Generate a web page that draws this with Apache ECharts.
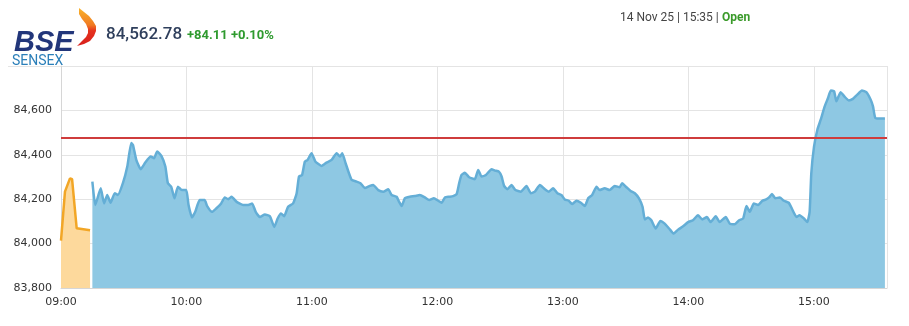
<!DOCTYPE html>
<html>
<head>
<meta charset="utf-8">
<script src="https://cdn.jsdelivr.net/npm/echarts@6/dist/echarts.min.js"></script>
<style>
html,body{margin:0;padding:0;background:#fff;}
#chart{width:909px;height:326px;}
</style>
</head>
<body>
<div id="chart"></div>
<script>
// ---- data (minutes after 09:00, index value) ----
const preOpenTimes = [0, 1.9, 4.3, 5.3, 7.5, 8.1, 13.9];
const preOpenValues = [84013, 84234, 84294, 84290, 84069, 84060, 84060];

const sessionTimes = [15,16.4,19,20.6,22.1,23.7,25.7,27.2,29.6,31.7,33.6,34.4,36,38.1,40.3,42.9,44.5,46,48,49.9,51.1,52.7,54.3,55.9,57.8,59.9,61,62.6,64.2,66.3,68.7,69.9,72.2,74.2,76.6,78.3,80,81.6,84,87.1,89.5,91.4,93.1,95.1,97.5,99.9,102,103.6,105.2,106.7,108.6,111,112.7,113.8,115.3,116.6,117.9,119.8,121.7,124.6,127,129.4,131.8,133.4,134.5,136.1,137.7,139,141.3,143.2,145.3,147.7,149.3,151.7,154.1,156.5,158.1,160.5,161.7,162.9,164.4,166.8,169.2,171.6,174,176.1,178.3,180.4,182,183.6,185.6,187.5,189.2,190.4,191.5,193.1,195.2,197.9,199.5,201.1,203.2,205.9,207.5,209.4,210.7,211.9,213.5,215.4,217.3,219.9,222.6,224.7,226.6,229,231.4,233.3,235.3,237.4,239.3,240.9,242.8,244.4,246.5,248.6,250.5,252.1,254,256.1,257.6,260,262.4,264.8,267.2,268.3,270.4,272.4,274.4,276.4,278.1,279.2,280.7,282.3,284.4,286.6,288.7,290.8,293,295.1,297.5,299.9,302.2,304.6,306.7,308.9,310.6,313.1,315,317.9,319.8,322.2,324.3,326.2,327.8,329.4,331.3,333.4,335.4,337.2,338.6,340,341.6,343.7,345.7,348,349.5,351.7,353.2,355.3,356.9,358,358.8,360.1,361.7,363.3,365.2,366.8,368.1,369.7,370.8,372.8,374.8,376.7,378.7,380.8,383,385.1,387.2,388.3,389.4,391.5,394];
const sessionValues = [84279,84174,84249,84181,84219,84184,84227,84219,84272,84347,84453,84445,84377,84335,84365,84392,84385,84415,84395,84347,84272,84256,84204,84256,84241,84241,84174,84118,84143,84196,84196,84169,84143,84158,84181,84208,84200,84211,84188,84174,84174,84181,84143,84120,84131,84123,84075,84113,84136,84123,84166,84181,84227,84302,84309,84369,84377,84407,84369,84350,84365,84377,84407,84392,84407,84362,84317,84287,84279,84272,84250,84260,84264,84241,84234,84245,84219,84211,84188,84169,84204,84211,84214,84219,84208,84196,84204,84193,84184,84208,84211,84214,84223,84272,84309,84319,84299,84290,84332,84302,84309,84335,84329,84324,84302,84260,84245,84264,84241,84234,84260,84227,84234,84264,84245,84234,84249,84227,84219,84199,84193,84178,84193,84184,84169,84204,84219,84256,84241,84249,84241,84260,84254,84272,84254,84237,84227,84204,84166,84109,84118,84105,84068,84102,84090,84068,84045,84063,84078,84097,84105,84128,84109,84120,84097,84123,84097,84120,84090,84087,84105,84113,84169,84143,84181,84174,84193,84199,84208,84223,84204,84208,84193,84184,84158,84120,84128,84113,84097,84143,84317,84437,84513,84558,84618,84656,84690,84686,84641,84682,84661,84645,84652,84671,84690,84682,84648,84618,84566,84563,84563];

const previousClose = 84478.67;
const yTicks = [83800, 84000, 84200, 84400, 84600, 84800];
const xTickLabels = ['09:00','10:00','11:00','12:00','13:00','14:00','15:00'];

const headerValue = '84,562.78';
const headerChange = '+84.11 +0.10%';
const headerDate = '14 Nov 25 | 15:35 | ';
const headerStatus = 'Open';

// ---- build ----
const preOpenData = preOpenTimes.map((t, i) => [t, preOpenValues[i]]);
const sessionData = sessionTimes.map((t, i) => [t, sessionValues[i]]);

const chart = echarts.init(document.getElementById('chart'), null, {renderer: 'canvas'});

const flameGradient = new echarts.graphic.LinearGradient(0, 0, 0, 1, [
  {offset: 0, color: '#f9b32a'},
  {offset: 0.45, color: '#f07a22'},
  {offset: 0.6, color: '#e5321e'},
  {offset: 1, color: '#d81f1c'}
]);

const option = {
  animation: false,
  backgroundColor: '#ffffff',
  grid: {left: 61, right: 22, top: 66, bottom: 38, containLabel: false},
  xAxis: {
    type: 'value',
    min: 0,
    max: 395,
    interval: 60,
    axisLine: {show: true, lineStyle: {color: '#d6d6d6'}},
    axisTick: {show: false},
    splitLine: {show: true, lineStyle: {color: '#e4e4e4', width: 1}},
    axisLabel: {
      showMaxLabel: false,
      margin: 9,
      color: '#333',
      fontFamily: 'DejaVu Sans',
      fontSize: 11,
      formatter: function (v) { return xTickLabels[Math.round(v / 60)] || ''; }
    }
  },
  yAxis: {
    type: 'value',
    min: yTicks[0],
    max: yTicks[yTicks.length - 1],
    interval: 200,
    axisLine: {show: true, lineStyle: {color: '#d6d6d6'}},
    axisTick: {show: false},
    splitLine: {show: true, lineStyle: {color: '#e4e4e4', width: 1}},
    axisLabel: {
      showMaxLabel: false,
      margin: 9,
      color: '#333',
      fontFamily: 'DejaVu Sans',
      fontSize: 11,
      formatter: function (v) { return v.toLocaleString('en-US'); }
    }
  },
  series: [
    {
      name: 'Pre-open',
      type: 'line',
      data: preOpenData,
      showSymbol: false,
      symbol: 'none',
      lineStyle: {color: '#f2a626', width: 2.5},
      itemStyle: {color: '#f2a626'},
      areaStyle: {color: '#fdd99c', opacity: 1, origin: 'start'},
      z: 2
    },
    {
      name: 'SENSEX',
      type: 'line',
      data: sessionData,
      showSymbol: false,
      symbol: 'none',
      smooth: 0.15,
      lineStyle: {color: '#64aed6', width: 2.5},
      itemStyle: {color: '#64aed6'},
      areaStyle: {color: '#8ec8e3', opacity: 1, origin: 'start'},
      z: 2,
      markLine: {
        silent: true,
        symbol: 'none',
        label: {show: false},
        lineStyle: {color: '#cf3c3c', width: 2, type: 'solid'},
        data: [{yAxis: previousClose}]
      }
    }
  ],
  graphic: [
    {
      type: 'line',
      shape: {x1: 8, y1: 66.5, x2: 61, y2: 66.5},
      style: {stroke: '#e4e4e4', lineWidth: 1}
    },
    {
      type: 'polygon',
      shape: {points: [[79,8],[84,12],[89,16],[93,21],[96,26],[96,31],[94,36],[90,41],[84,44],[77,46],[82,41],[86,37],[88,33],[88,29],[86,24],[82,19],[79,14]]},
      style: {fill: flameGradient}
    },
    {
      type: 'text',
      style: {
        text: 'BSE', x: 14, y: 43,
        textVerticalAlign: 'middle',
        font: 'italic bold 29px "Liberation Sans"',
        fill: '#22367a'
      }
    },
    {
      type: 'text',
      style: {
        text: 'SENSEX', x: 12, y: 61,
        textVerticalAlign: 'middle',
        font: '14px Roboto',
        fill: '#2b7fb9'
      }
    },
    {
      type: 'text',
      style: {
        text: headerValue, x: 106, y: 35,
        textVerticalAlign: 'middle',
        font: '500 17px Roboto',
        fill: '#2f3f5c'
      }
    },
    {
      type: 'text',
      style: {
        text: headerChange, x: 187, y: 36,
        textVerticalAlign: 'middle',
        font: 'bold 13px Roboto',
        fill: '#2e9a2e'
      }
    },
    {
      type: 'text',
      style: {
        text: headerDate, x: 620, y: 18,
        textVerticalAlign: 'middle',
        font: '12px Roboto',
        fill: '#444'
      }
    },
    {
      type: 'text',
      style: {
        text: headerStatus, x: 722, y: 18,
        textVerticalAlign: 'middle',
        font: 'bold 12px Roboto',
        fill: '#3a9a2a'
      }
    }
  ]
};

chart.setOption(option);
</script>
</body>
</html>
